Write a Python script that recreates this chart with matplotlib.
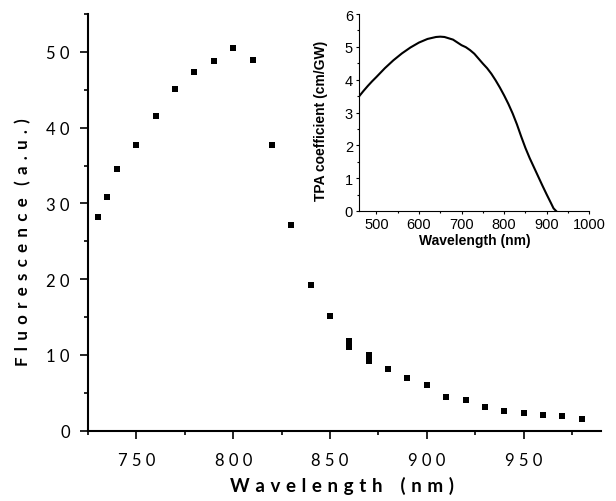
import matplotlib

matplotlib.use("Agg")

import matplotlib.pyplot as plt
from matplotlib.ticker import MultipleLocator

# main plot: fluorescence vs excitation wavelength
wavelength = [730, 735, 740, 750, 760, 770, 780, 790, 800, 810, 820, 830, 840, 850,
              860, 860, 870, 870, 880, 890, 900, 910, 920, 930, 940, 950, 960, 970, 980]
fluorescence = [28.2, 30.9, 34.6, 37.7, 41.6, 45.1, 47.3, 48.8, 50.5, 48.9, 37.7, 27.2, 19.3, 15.1,
                11.9, 11.1, 10.0, 9.25, 8.2, 7.0, 6.0, 4.5, 4.0, 3.1, 2.55, 2.35, 2.05, 1.9, 1.5]
main_xticks = [750, 800, 850, 900, 950]
main_yticks = [0, 10, 20, 30, 40, 50]

# inset: TPA coefficient curve
tpa_wavelength = [460, 470, 480, 490, 500, 520, 540, 560, 580, 600, 620, 640, 650, 660,
                  680, 700, 710, 720, 730, 740, 750, 760, 770, 780, 790, 800, 810, 820,
                  830, 840, 850, 860, 870, 880, 890, 900, 910, 916, 922]
tpa_coeff = [3.50, 3.66, 3.81, 3.95, 4.08, 4.35, 4.59, 4.80, 4.98, 5.13, 5.24, 5.30, 5.31, 5.30,
             5.22, 5.05, 4.99, 4.90, 4.79, 4.64, 4.49, 4.35, 4.18, 3.98, 3.76, 3.52, 3.26, 2.97,
             2.64, 2.27, 1.92, 1.61, 1.33, 1.05, 0.77, 0.50, 0.24, 0.08, 0.0]

MAIN_FONT = ["Lato", "DejaVu Sans"]
INSET_FONT = ["Liberation Sans", "DejaVu Sans"]


def spaced(text, gap=" "):
    return gap.join(text)


def main():
    fig = plt.figure(figsize=(6.16, 5.02), dpi=100)

    ax = fig.add_axes([0.1429, 0.140, 0.8328, 0.830])
    ax.plot(wavelength, fluorescence, "s", color="black", ms=4.8, mew=0)
    ax.set_xlim(725, 990)
    ax.set_ylim(0, 55)
    for side in ("top", "right"):
        ax.spines[side].set_visible(False)
    for side in ("left", "bottom"):
        ax.spines[side].set_linewidth(1.5)
    ax.set_xticks(main_xticks)
    ax.set_xticklabels([spaced(str(v)) for v in main_xticks], family=MAIN_FONT, fontsize=12)
    ax.set_yticks(main_yticks)
    ax.set_yticklabels([spaced(str(v)) for v in main_yticks], family=MAIN_FONT, fontsize=12)
    ax.xaxis.set_minor_locator(MultipleLocator(25))
    ax.yaxis.set_minor_locator(MultipleLocator(5))
    ax.tick_params(which="major", direction="out", length=6, width=1.2, pad=9)
    ax.tick_params(which="minor", direction="out", length=3, width=1.2)
    ax.tick_params(axis="y", which="major", pad=7)
    ax.set_xlabel(spaced("Wavelength", " \u200a") + "    " + spaced("(nm)", " \u200a"),
                  family=MAIN_FONT, fontsize=13.5, fontweight="bold")
    ax.set_ylabel(spaced("Fluorescence", " \u2009") + "   " + spaced("(a.u.)", " \u2009"),
                  family=MAIN_FONT, fontsize=12.2, fontweight="bold")
    ax.xaxis.set_label_coords(0.495, -0.108)
    ax.yaxis.set_label_coords(-0.110, 0.454)

    inset = fig.add_axes([0.5833, 0.5777, 0.3734, 0.3924])
    inset.plot(tpa_wavelength, tpa_coeff, color="black", lw=1.5)
    inset.set_xlim(460, 1000)
    inset.set_ylim(0, 6)
    for side in ("top", "right"):
        inset.spines[side].set_visible(False)
    for side in ("left", "bottom"):
        inset.spines[side].set_linewidth(0.8)
    inset.xaxis.set_major_locator(MultipleLocator(100))
    inset.xaxis.set_minor_locator(MultipleLocator(50))
    inset.yaxis.set_major_locator(MultipleLocator(1))
    inset.yaxis.set_minor_locator(MultipleLocator(0.5))
    inset.tick_params(which="major", direction="out", length=2.5, width=0.8, pad=2,
                      labelsize=10.5)
    inset.tick_params(which="minor", direction="out", length=1.5, width=0.8)
    for label in inset.get_xticklabels() + inset.get_yticklabels():
        label.set_family(INSET_FONT)
    inset.set_xlabel("Wavelength (nm)", family=INSET_FONT, fontsize=10, fontweight="bold",
                     labelpad=1)
    inset.set_ylabel("TPA coefficient (cm/GW)", family=INSET_FONT, fontsize=10,
                     fontweight="bold")
    inset.yaxis.set_label_coords(-0.136, 0.462)

    fig.savefig("out.png", dpi=100)


if __name__ == "__main__":
    main()
